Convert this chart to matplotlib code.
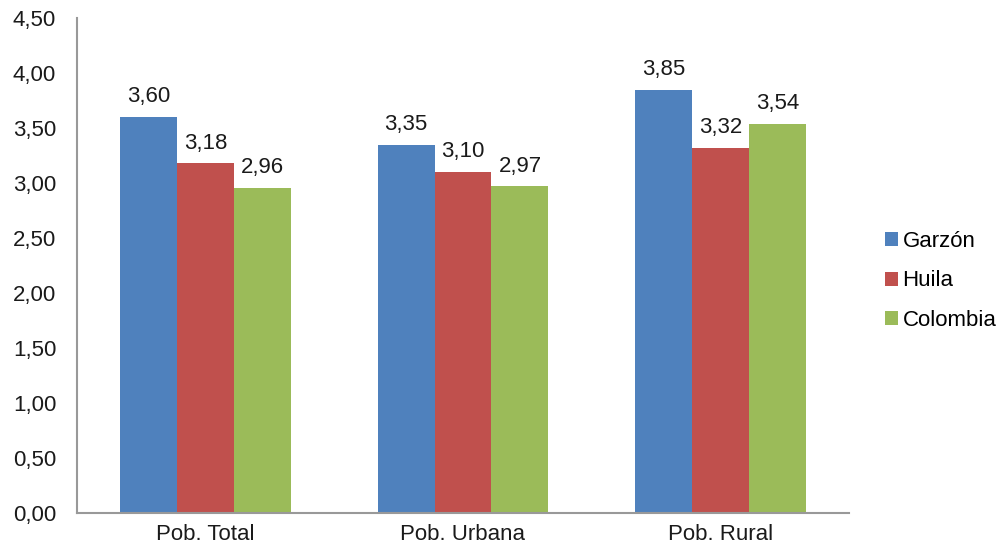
import matplotlib.pyplot as plt
import numpy as np

plt.rcParams['font.family'] = ['Liberation Sans', 'DejaVu Sans']

# Datos
categorias = ['Pob. Total', 'Pob. Urbana', 'Pob. Rural']
garzon = [3.60, 3.35, 3.85]
huila = [3.18, 3.10, 3.32]
colombia = [2.96, 2.97, 3.54]
series = ['Garzón', 'Huila', 'Colombia']
colores = ['#4F81BD', '#C0504D', '#9BBB59']
yticks = [0, 0.5, 1.0, 1.5, 2.0, 2.5, 3.0, 3.5, 4.0, 4.5]

fig = plt.figure(figsize=(10.03, 5.53), dpi=100)
ax = fig.add_axes([0.0768, 0.0723, 0.7696, 0.8947])

x = np.arange(len(categorias))
w = 0.2214
for i, (vals, nombre, col) in enumerate(zip([garzon, huila, colombia], series, colores)):
    bars = ax.bar(x + (i - 1) * w, vals, w, color=col, label=nombre)
    for b, v in zip(bars, vals):
        ax.annotate(f'{v:.2f}'.replace('.', ','),
                    (b.get_x() + b.get_width() / 2, v),
                    xytext=(0, 7), textcoords='offset points',
                    ha='center', va='bottom', fontsize=16, color='#1a1a1a')

ax.set_xlim(-0.5, 2.5)
ax.set_ylim(0, 4.5)
ax.set_yticks(yticks)
ax.set_yticklabels([f'{t:.2f}'.replace('.', ',') for t in yticks])
ax.set_xticks(x)
ax.set_xticklabels(categorias)
ax.tick_params(axis='y', length=0, pad=15, labelsize=16, labelcolor='#1a1a1a')
ax.tick_params(axis='x', length=0, pad=8, labelsize=16, labelcolor='#1a1a1a')

for s in ['top', 'right']:
    ax.spines[s].set_visible(False)
for s in ['left', 'bottom']:
    ax.spines[s].set_color('#999999')
    ax.spines[s].set_linewidth(1.5)

fig.legend(loc='center left', bbox_to_anchor=(0.882, 0.492), frameon=False,
           fontsize=16, handlelength=0.6, handleheight=0.6, handletextpad=0.2,
           labelspacing=0.82, borderpad=0, borderaxespad=0)

fig.savefig('out.png', dpi=100)
